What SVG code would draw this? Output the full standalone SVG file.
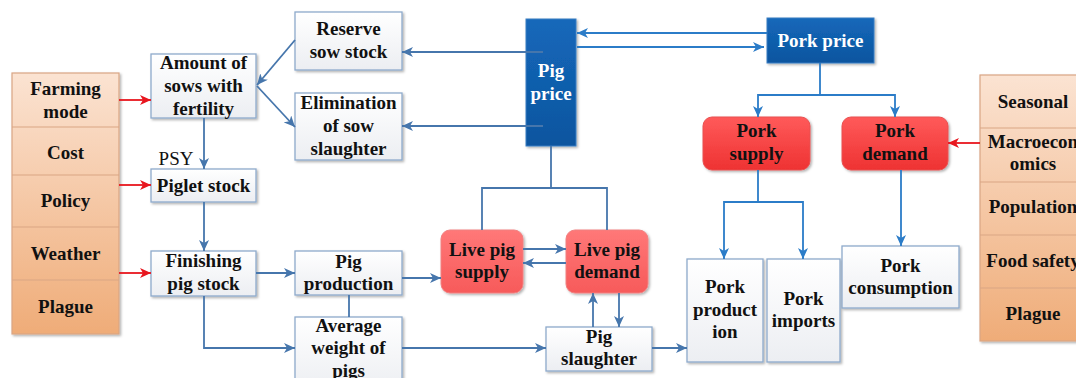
<svg xmlns="http://www.w3.org/2000/svg" width="1076" height="378" viewBox="0 0 1076 378">
<defs>
<style>
.t{font-family:"Liberation Serif","Times New Roman",serif;font-weight:bold;font-size:19px;text-anchor:middle;fill:#111}
.w{fill:#fff}
.n{font-weight:normal}
.box{fill:url(#gBox);stroke:#8eaacb;stroke-width:1.3;filter:url(#sh)}
.blue{fill:url(#gBlue);stroke:#3a7cc2;stroke-width:1;filter:url(#sh)}
.live{fill:url(#gLive);stroke:#f08080;stroke-width:1;filter:url(#sh)}
.pork{fill:url(#gPork);stroke:#e85050;stroke-width:1;filter:url(#sh)}
.col{fill:url(#gCol);stroke:#d9a584;stroke-width:1.2;filter:url(#sh)}
.div{stroke:#d9a584;stroke-width:1.2}
.c1{fill:none;stroke:#4676ac;stroke-width:1.8}
.c2{fill:none;stroke:#2b7cc8;stroke-width:1.8}
.cr{fill:none;stroke:#e8161e;stroke-width:1.8}
.a1{marker-end:url(#m1)}
.a2{marker-end:url(#m2)}
.ar{marker-end:url(#mr)}
</style>
<linearGradient id="gBox" x1="0" y1="0" x2="0" y2="1"><stop offset="0" stop-color="#ffffff"/><stop offset="1" stop-color="#eceef2"/></linearGradient>
<linearGradient id="gBlue" x1="0" y1="0" x2="0" y2="1"><stop offset="0" stop-color="#1468ba"/><stop offset="1" stop-color="#0d559f"/></linearGradient>
<linearGradient id="gLive" x1="0" y1="0" x2="0" y2="1"><stop offset="0" stop-color="#ff7878"/><stop offset="1" stop-color="#f75a5a"/></linearGradient>
<linearGradient id="gPork" x1="0" y1="0" x2="0" y2="1"><stop offset="0" stop-color="#ff5a5a"/><stop offset="1" stop-color="#ee3232"/></linearGradient>
<linearGradient id="gCol" x1="0" y1="0" x2="0" y2="1"><stop offset="0" stop-color="#fbe3d2"/><stop offset="1" stop-color="#efac78"/></linearGradient>
<filter id="sh" x="-10%" y="-10%" width="130%" height="130%"><feDropShadow dx="1.5" dy="1.5" stdDeviation="1.2" flood-color="#000" flood-opacity="0.3"/></filter>
<marker id="m1" markerUnits="userSpaceOnUse" markerWidth="12" markerHeight="10" refX="11" refY="5" orient="auto"><path d="M0,0 L11,5 L0,10 L3,5 z" fill="#4676ac"/></marker>
<marker id="m2" markerUnits="userSpaceOnUse" markerWidth="12" markerHeight="10" refX="11" refY="5" orient="auto"><path d="M0,0 L11,5 L0,10 L3,5 z" fill="#2b7cc8"/></marker>
<marker id="mr" markerUnits="userSpaceOnUse" markerWidth="12" markerHeight="10" refX="11" refY="5" orient="auto"><path d="M0,0 L11,5 L0,10 L3,5 z" fill="#e8161e"/></marker>
</defs>
<rect width="1076" height="378" fill="#fff"/>

<g id="left-factors">
<rect class="col" x="12" y="73" width="107" height="261"/>
<line class="div" x1="12" y1="127" x2="119" y2="127"/>
<line class="div" x1="12" y1="175" x2="119" y2="175"/>
<line class="div" x1="12" y1="227" x2="119" y2="227"/>
<line class="div" x1="12" y1="280" x2="119" y2="280"/>
<text class="t" x="65.5" y="95">Farming</text>
<text class="t" x="65.5" y="118">mode</text>
<text class="t" x="65.5" y="159">Cost</text>
<text class="t" x="65.5" y="207">Policy</text>
<text class="t" x="65.5" y="260">Weather</text>
<text class="t" x="65.5" y="313">Plague</text>
</g>

<g id="right-factors">
<rect class="col" x="980" y="75" width="110" height="266"/>
<line class="div" x1="980" y1="128" x2="1090" y2="128"/>
<line class="div" x1="980" y1="182" x2="1090" y2="182"/>
<line class="div" x1="980" y1="235" x2="1090" y2="235"/>
<line class="div" x1="980" y1="288" x2="1090" y2="288"/>
<text class="t" x="1033" y="108">Seasonal</text>
<text class="t" x="1033" y="148">Macroecon</text>
<text class="t" x="1033" y="170">omics</text>
<text class="t" x="1033" y="213">Population</text>
<text class="t" x="1033" y="267">Food safety</text>
<text class="t" x="1033" y="320">Plague</text>
</g>

<g id="sows">
<rect class="box" x="151" y="54" width="105" height="64"/>
<text class="t" x="203.5" y="69">Amount of</text>
<text class="t" x="203.5" y="92">sows with</text>
<text class="t" x="203.5" y="115">fertility</text>
</g>
<g id="piglet">
<rect class="box" x="151" y="169" width="105" height="33"/>
<text class="t" x="203.5" y="192">Piglet stock</text>
</g>
<g id="finishing">
<rect class="box" x="151" y="251" width="105" height="45"/>
<text class="t" x="203.5" y="267">Finishing</text>
<text class="t" x="203.5" y="290">pig stock</text>
</g>
<g id="reserve">
<rect class="box" x="295" y="12" width="107" height="58"/>
<text class="t" x="348.5" y="35">Reserve</text>
<text class="t" x="348.5" y="58">sow stock</text>
</g>
<g id="elimination">
<rect class="box" x="295" y="93" width="107" height="67"/>
<text class="t" x="348.5" y="109">Elimination</text>
<text class="t" x="348.5" y="132">of sow</text>
<text class="t" x="348.5" y="155">slaughter</text>
</g>
<g id="pig-production">
<rect class="box" x="295" y="251" width="107" height="44"/>
<text class="t" x="348.5" y="268">Pig</text>
<text class="t" x="348.5" y="290">production</text>
</g>
<g id="avg-weight">
<rect class="box" x="295" y="317" width="107" height="75"/>
<text class="t" x="348.5" y="332">Average</text>
<text class="t" x="348.5" y="354">weight of</text>
<text class="t" x="348.5" y="377">pigs</text>
</g>
<g id="pig-price">
<rect class="blue" x="526" y="19" width="50" height="127"/>
<text class="t w" x="551" y="77">Pig</text>
<text class="t w" x="551" y="100">price</text>
</g>
<g id="live-supply">
<rect class="live" x="441" y="230" width="82" height="63" rx="9"/>
<text class="t" x="482" y="256">Live pig</text>
<text class="t" x="482" y="278">supply</text>
</g>
<g id="live-demand">
<rect class="live" x="566" y="230" width="82" height="63" rx="9"/>
<text class="t" x="607" y="256">Live pig</text>
<text class="t" x="607" y="278">demand</text>
</g>
<g id="slaughter">
<rect class="box" x="546" y="327" width="106" height="44"/>
<text class="t" x="599" y="343">Pig</text>
<text class="t" x="599" y="365">slaughter</text>
</g>
<g id="pork-price">
<rect class="blue" x="767" y="18" width="107" height="45"/>
<text class="t w" x="820.5" y="47">Pork price</text>
</g>
<g id="pork-supply">
<rect class="pork" x="703" y="117" width="107" height="53" rx="9"/>
<text class="t" x="756.5" y="137">Pork</text>
<text class="t" x="756.5" y="160">supply</text>
</g>
<g id="pork-demand">
<rect class="pork" x="842" y="117" width="106" height="53" rx="9"/>
<text class="t" x="895" y="137">Pork</text>
<text class="t" x="895" y="160">demand</text>
</g>
<g id="pork-production">
<rect class="box" x="687" y="259" width="76" height="103"/>
<text class="t" x="725" y="293">Pork</text>
<text class="t" x="725" y="316">product</text>
<text class="t" x="725" y="338">ion</text>
</g>
<g id="pork-imports">
<rect class="box" x="767" y="259" width="73" height="103"/>
<text class="t" x="803.5" y="305">Pork</text>
<text class="t" x="803.5" y="327">imports</text>
</g>
<g id="pork-consumption">
<rect class="box" x="842" y="246" width="117" height="62"/>
<text class="t" x="900.5" y="272">Pork</text>
<text class="t" x="900.5" y="294">consumption</text>
</g>

<text class="t n" x="176" y="165">PSY</text>

<g id="connectors">
<path class="c1 a1" d="M543,52 H402"/>
<path class="c1 a1" d="M543,126 H402"/>
<path class="c1 a1" d="M295,40 L257,85"/>
<path class="c1 a1" d="M257,86 L295,127"/>
<path class="c1 a1" d="M204,118 V169"/>
<path class="c1 a1" d="M204,202 V251"/>
<path class="c1 a1" d="M256,273 H295"/>
<path class="c1 a1" d="M204,296 V348 H295"/>
<path class="c1" d="M349,295 V317"/>
<path class="c1 a1" d="M402,278 H441"/>
<path class="c1" d="M551,146 V188 M482,230 V188 H607 V230"/>
<path class="c1 a1" d="M523,249 H566"/>
<path class="c1 a1" d="M566,263 H523"/>
<path class="c1 a1" d="M402,348 H546"/>
<path class="c1 a1" d="M593,327 V293"/>
<path class="c1 a1" d="M619,293 V327"/>
<path class="c1 a1" d="M652,348 H687"/>
<path class="c2 a2" d="M767,33 H577"/>
<path class="c2 a2" d="M577,47 H764"/>
<path class="c2" d="M820,63 V95"/>
<path class="c2 a2" d="M820,95 H758 V117"/>
<path class="c2 a2" d="M820,95 H895 V117"/>
<path class="c2" d="M758,170 V202"/>
<path class="c2 a2" d="M758,202 H724 V259"/>
<path class="c2 a2" d="M758,202 H803 V259"/>
<path class="c2 a2" d="M901,170 V246"/>
<path class="cr ar" d="M119,100 H151"/>
<path class="cr ar" d="M119,185 H151"/>
<path class="cr ar" d="M119,273 H151"/>
<path class="cr ar" d="M980,143 H948"/>
</g>
</svg>
